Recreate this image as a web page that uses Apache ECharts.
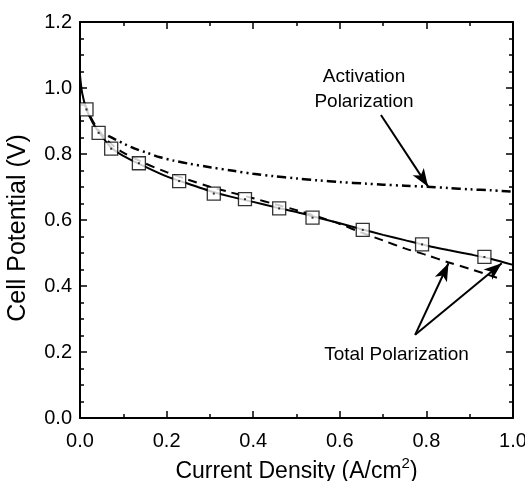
<!DOCTYPE html>
<html>
<head>
<meta charset="utf-8">
<script src="https://cdn.jsdelivr.net/npm/echarts@6/dist/echarts.min.js"></script>
<style>
html,body{margin:0;padding:0;background:#fff;}
#chart{width:525px;height:481px;}
</style>
</head>
<body>
<div id="chart"></div>
<script>
// Experimental data (squares)
const expX = [0.015, 0.043, 0.072, 0.136, 0.229, 0.309, 0.381, 0.460, 0.537, 0.653, 0.790, 0.934];
const expY = [0.935, 0.864, 0.816, 0.772, 0.718, 0.680, 0.663, 0.635, 0.607, 0.570, 0.526, 0.488];

// Total polarization model (solid)
const solidX = [0, 0.005, 0.015, 0.03, 0.045, 0.07, 0.1, 0.14, 0.2, 0.25, 0.3, 0.35, 0.4, 0.45, 0.5, 0.55, 0.6, 0.65, 0.7, 0.75, 0.8, 0.85, 0.9, 0.95, 1.0];
const solidY = [1.04, 0.985, 0.935, 0.893, 0.864, 0.822, 0.794, 0.768, 0.732, 0.710, 0.688, 0.670, 0.655, 0.639, 0.624, 0.607, 0.590, 0.572, 0.555, 0.539, 0.523, 0.509, 0.496, 0.482, 0.464];

// Total polarization model (dashed)
const dashX = [0.01, 0.02, 0.04, 0.07, 0.1, 0.15, 0.2, 0.25, 0.3, 0.35, 0.4, 0.45, 0.5, 0.55, 0.6, 0.65, 0.7, 0.75, 0.8, 0.85, 0.9, 0.97];
const dashY = [0.955, 0.925, 0.877, 0.833, 0.804, 0.772, 0.745, 0.722, 0.701, 0.683, 0.666, 0.648, 0.630, 0.610, 0.588, 0.562, 0.538, 0.514, 0.494, 0.472, 0.452, 0.422];

// Activation polarization (dash-dot-dot)
const actX = [0.065, 0.08, 0.1, 0.125, 0.154, 0.185, 0.216, 0.25, 0.3, 0.354, 0.4, 0.446, 0.5, 0.55, 0.6, 0.662, 0.7, 0.75, 0.8, 0.85, 0.9, 0.95, 1.0];
const actY = [0.855, 0.845, 0.832, 0.817, 0.804, 0.790, 0.780, 0.771, 0.760, 0.749, 0.740, 0.733, 0.726, 0.720, 0.715, 0.710, 0.707, 0.704, 0.701, 0.697, 0.693, 0.690, 0.686];

// Axis ticks
const xTicks = [0.0, 0.2, 0.4, 0.6, 0.8, 1.0];
const yTicks = [0.0, 0.2, 0.4, 0.6, 0.8, 1.0, 1.2];

// Annotations (data coordinates)
const actLabel = ['Activation', 'Polarization'];
const totLabel = 'Total Polarization';
const actArrow = [[0.695, 0.918], [0.804, 0.701]];
const totArrows = [[[0.774, 0.252], [0.851, 0.469]], [[0.774, 0.252], [0.974, 0.469]]];

const zip = (a, b) => a.map((v, i) => [v, b[i]]);
const FONT = 'Liberation Sans, Arial, sans-serif';

const chart = echarts.init(document.getElementById('chart'), null, {renderer: 'canvas'});

const axisCommon = {
  axisLine: {show: true, onZero: false, lineStyle: {color: '#000', width: 2}},
  axisTick: {show: true, inside: true, length: 7, lineStyle: {color: '#000', width: 1.5}},
  minorTick: {show: true, length: 4, lineStyle: {color: '#000', width: 1.5}},
  splitLine: {show: false},
  minorSplitLine: {show: false}
};

const option = {
  animation: false,
  backgroundColor: '#fff',
  grid: {left: 80, right: 12, top: 22, bottom: 63, containLabel: false, outerBoundsMode: 'none'},
  xAxis: [
    Object.assign({}, axisCommon, {
      type: 'value', min: 0, max: 1.0, interval: 0.2, position: 'bottom',
      minorTick: Object.assign({}, axisCommon.minorTick, {splitNumber: 2}),
      axisLabel: {color: '#000', fontFamily: FONT, fontSize: 20, margin: 13,
        formatter: v => xTicks.some(t => Math.abs(t - v) < 1e-9) ? v.toFixed(1) : ''},
      name: '{m|Current Density (A/cm}{s|2}{m|)}',
      nameLocation: 'middle', nameGap: 38,
      nameTextStyle: {rich: {
        m: {fontFamily: FONT, fontSize: 23, color: '#000', verticalAlign: 'bottom', lineHeight: 27},
        s: {fontFamily: FONT, fontSize: 15, color: '#000', verticalAlign: 'top', lineHeight: 27, padding: [0, 0, 12, 0]}
      }}
    }),
    Object.assign({}, axisCommon, {
      type: 'value', min: 0, max: 1.0, interval: 0.2, position: 'top',
      minorTick: Object.assign({}, axisCommon.minorTick, {splitNumber: 2}),
      axisLabel: {show: false}
    })
  ],
  yAxis: [
    Object.assign({}, axisCommon, {
      type: 'value', min: 0, max: 1.2, interval: 0.2, position: 'left',
      minorTick: Object.assign({}, axisCommon.minorTick, {splitNumber: 4}),
      axisLabel: {color: '#000', fontFamily: FONT, fontSize: 20, margin: 8,
        formatter: v => yTicks.some(t => Math.abs(t - v) < 1e-9) ? v.toFixed(1) : ''},
      name: 'Cell Potential (V)', nameLocation: 'middle', nameGap: 49,
      nameTextStyle: {fontFamily: FONT, fontSize: 25, color: '#000', padding: [0, 16, 0, 0]}
    }),
    Object.assign({}, axisCommon, {
      type: 'value', min: 0, max: 1.2, interval: 0.2, position: 'right',
      minorTick: Object.assign({}, axisCommon.minorTick, {splitNumber: 4}),
      axisLabel: {show: false}
    })
  ],
  series: [
    {
      name: 'Total (solid)', type: 'line', data: zip(solidX, solidY), showSymbol: false,
      smooth: 0.3, lineStyle: {color: '#000', width: 2}, z: 3,
      markLine: {
        silent: true, symbol: ['none', 'arrow'], symbolSize: [10, 18],
        label: {show: false},
        lineStyle: {color: '#000', width: 2, type: 'solid'},
        data: [
          [{coord: actArrow[0]}, {coord: actArrow[1]}],
          [{coord: totArrows[0][0]}, {coord: totArrows[0][1]}],
          [{coord: totArrows[1][0]}, {coord: totArrows[1][1]}]
        ]
      }
    },
    {
      name: 'Total (dashed)', type: 'line', data: zip(dashX, dashY), showSymbol: false,
      smooth: 0.3, lineStyle: {color: '#000', width: 2, type: [9, 6]}, z: 3
    },
    {
      name: 'Activation', type: 'line', data: zip(actX, actY), showSymbol: false,
      smooth: 0.3, lineStyle: {color: '#000', width: 2.5, type: [9, 4, 2, 4, 2, 4]}, z: 3
    },
    {
      name: 'Experiment', type: 'scatter', data: zip(expX, expY),
      symbol: 'rect', symbolSize: 13,
      itemStyle: {color: '#fff', borderColor: '#000', borderWidth: 1.3}, z: 5
    },
    {
      name: 'Experiment dot', type: 'scatter', data: zip(expX, expY),
      symbol: 'rect', symbolSize: 2, itemStyle: {color: '#000'}, z: 6
    }
  ]
};

chart.setOption(option);

const pAct = chart.convertToPixel({gridIndex: 0}, [0.656, 0.995]);
const pTot = chart.convertToPixel({gridIndex: 0}, [0.731, 0.191]);
chart.setOption({
  graphic: [
    {type: 'text', x: pAct[0], y: pAct[1], z: 10,
      style: {text: actLabel.join('\n'), fontFamily: FONT, fontSize: 19, lineHeight: 25,
        fill: '#000', align: 'center', verticalAlign: 'middle'}},
    {type: 'text', x: pTot[0], y: pTot[1], z: 10,
      style: {text: totLabel, fontFamily: FONT, fontSize: 19,
        fill: '#000', align: 'center', verticalAlign: 'middle'}}
  ]
});
</script>
</body>
</html>
